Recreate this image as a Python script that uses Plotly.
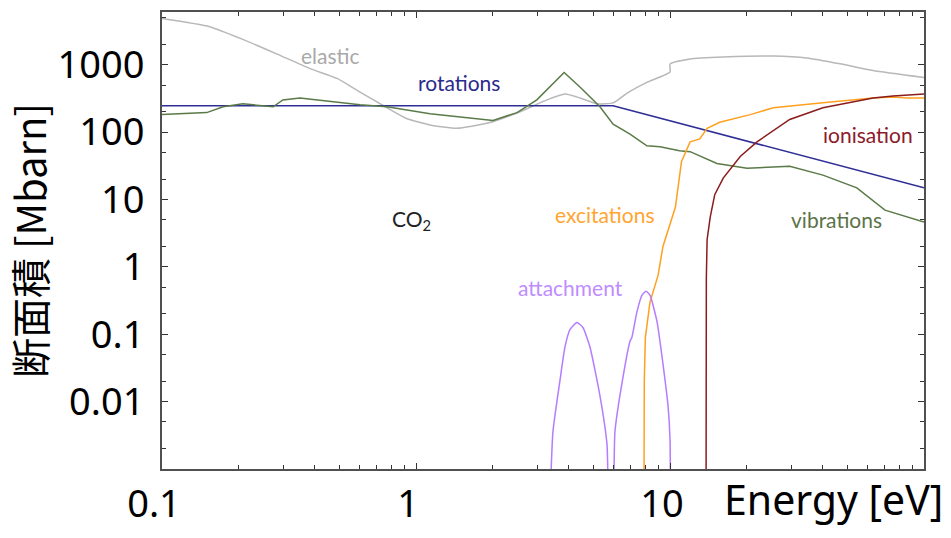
import math
import plotly.graph_objects as go

# ---------------- data ----------------
elastic_x = [0.1, 0.154, 0.208, 0.284, 0.383, 0.489, 0.602, 0.769, 0.922, 1.135, 1.45, 1.90,
             2.57, 3.28, 3.86, 4.43, 5.16, 5.97, 6.78, 8.11, 10.0, 10.01, 12.0, 16.2, 25.5,
             34.6, 46.7, 63.0, 100]
elastic_y = [4850, 3670, 2380, 1440, 875, 627, 393, 230, 158, 128, 114, 135,
             201, 301, 367, 321, 263, 272, 380, 548, 780, 1030, 1222, 1306, 1350,
             1263, 1033, 819, 645]

rot_x = [0.1, 5.97, 100]
rot_y = [246, 246, 14.9]

vib_x = [0.1, 0.150, 0.174, 0.208, 0.274, 0.299, 0.349, 0.447, 0.602, 0.769, 1.135, 2.01,
         2.50, 2.99, 3.83, 4.43, 5.30, 5.97, 6.96, 8.11, 9.14, 10.9, 12.0, 15.3, 20.1, 29.6,
         40.0, 54.4, 70.2, 100]
vib_y = [182, 195, 238, 263, 238, 301, 321, 291, 255, 238, 188, 149,
         195, 301, 766, 464, 238, 131, 93.5, 62.7, 60.7, 53, 51.3, 34.3, 29.1, 31.1,
         23, 14.9, 6.94, 4.64]

exc_x = [7.88, 7.92, 8.0, 8.34, 8.97, 9.38, 10.5, 11.1, 12.0, 13.1, 14.0, 15.7, 20.7,
         25.5, 40.0, 63.0, 75.5, 85.7, 100]
exc_y = [1e-5, 0.02, 0.09, 0.30, 0.74, 2.01, 7.66, 36.7, 71.6, 79.2, 114, 140, 182,
         230, 272, 321, 332, 321, 321]

ion_x = [13.85, 13.87, 13.9, 14.0, 14.4, 15.0, 16.2, 18.9, 22.0, 29.6, 40.0, 63.0, 75.5, 100]
ion_y = [1e-5, 0.05, 0.67, 2.55, 5.48, 11.8, 20.8, 43.4, 71.6, 154, 230, 321, 344, 367]

att_x = [3.34, 3.46, 3.69, 3.86, 4.04, 4.30, 4.54, 4.84, 5.30, 5.65, 5.80,
         5.91, 6.07, 6.47, 6.96, 7.08, 7.41, 7.76, 8.05, 8.34, 8.89, 9.38, 9.82, 10.0, 10.05]
att_y = [1e-4, 0.00356, 0.0209, 0.0648, 0.118, 0.149, 0.126, 0.0648, 0.0122, 0.0023, 1e-4,
         1e-4, 0.00356, 0.0188, 0.079, 0.0905, 0.215, 0.38, 0.435, 0.38, 0.154, 0.0367,
         0.00875, 0.00281, 1e-4]

x_tickvals = [0.1, 1, 10]
x_ticktext = ["0.1", "1", "10"]
y_tickvals = [0.01, 0.1, 1, 10, 100, 1000]
y_ticktext = ["0.01", "0.1", "1", "10", "100", "1000"]

label_texts = ["elastic", "rotations", "CO<sub>2</sub>", "excitations", "vibrations",
               "ionisation", "attachment"]
label_x = [0.462, 1.48, 0.964, 5.55, 45.4, 60.3, 4.07]
label_y = [1350, 548, 4.97, 6.07, 5.13, 93.6, 0.497]
label_colors = ["#a9a9a9", "#2a2a8c", "#222222", "#ffa530", "#5b7349", "#8b1a2a", "#c08cff"]

# ---------------- figure ----------------
fig = go.Figure()
series = [
    ("elastic", elastic_x, elastic_y, "#b8b8b8", "spline"),
    ("rotations", rot_x, rot_y, "#2e2e96", "linear"),
    ("vibrations", vib_x, vib_y, "#5a7a48", "linear"),
    ("excitations", exc_x, exc_y, "#ffa020", "linear"),
    ("ionisation", ion_x, ion_y, "#8b1c1c", "linear"),
    ("attachment", att_x, att_y, "#b57cff", "spline"),
]
for name, xs, ys, col, shape in series:
    line = dict(color=col, width=1.5, shape=shape)
    if shape == "spline":
        line["smoothing"] = 0.5
    fig.add_trace(go.Scatter(x=xs, y=ys, mode="lines", name=name,
                             line=line, showlegend=False))

for t, lx, ly, c in zip(label_texts, label_x, label_y, label_colors):
    fig.add_annotation(x=math.log10(lx), y=math.log10(ly), xref="x", yref="y",
                       text=t, showarrow=False,
                       font=dict(family="Lato", size=21, color=c))

x_minor = [m * d for d in (0.1, 1, 10) for m in range(2, 10)]
y_minor = [m * d for d in (0.001, 0.01, 0.1, 1, 10, 100, 1000) for m in (2, 5)]

axis_common = dict(
    type="log", showgrid=False, zeroline=False,
    showline=True, linecolor="#505050", linewidth=2, mirror="ticks",
    ticks="inside", ticklen=6, tickwidth=1.2, tickcolor="#333333",
    tickfont=dict(family="Noto Sans", size=38, color="black"),
)

fig.update_xaxes(**axis_common, range=[-1, 2], tickmode="array",
                 tickvals=x_tickvals, ticktext=x_ticktext, ticklabelshift=-8,
                 minor=dict(tickmode="array", tickvals=x_minor, ticks="inside",
                            ticklen=4, tickwidth=1.2, tickcolor="#333333"))
fig.update_yaxes(**axis_common, range=[-3, 3.783], tickmode="array",
                 tickvals=y_tickvals, ticktext=y_ticktext, ticklabelstandoff=8,
                 minor=dict(tickmode="array", tickvals=y_minor, ticks="inside",
                            ticklen=4, tickwidth=1.2, tickcolor="#333333"),
                 title=dict(text="断面積 [Mbarn]", standoff=10,
                            font=dict(family="Noto Sans CJK JP", size=40, color="black")))

fig.add_annotation(x=1.027, y=-0.066, xref="paper", yref="paper", xanchor="right",
                   yanchor="middle", text="Energy [eV]", showarrow=False,
                   font=dict(family="Noto Sans", size=41, color="black"))

fig.update_layout(width=951, height=538,
                  margin=dict(l=162, r=27, t=10, b=58),
                  paper_bgcolor="white", plot_bgcolor="white")

fig.write_html("out.html")
